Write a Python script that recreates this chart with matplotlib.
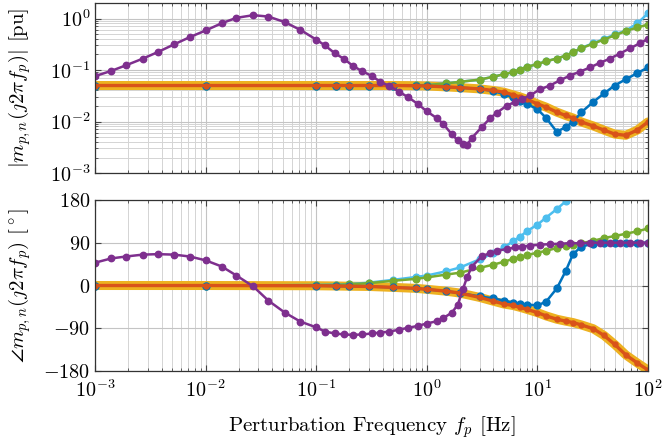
import numpy as np
import matplotlib
matplotlib.use('Agg')
import matplotlib.pyplot as plt
from matplotlib.ticker import LogLocator, NullFormatter, NullLocator

# ---------------- data ----------------
# shared frequency grid [Hz]
freq = [0.001, 0.01, 0.1, 0.15, 0.2, 0.3, 0.5, 0.8, 1, 1.5, 2, 3, 4, 5, 6, 7, 8,
        10, 12, 15, 18, 21, 25, 32, 40, 50, 63, 80, 100]

# reference (yellow) / orange series
orange_mag = [0.05, 0.05, 0.05, 0.05, 0.05, 0.05, 0.05, 0.0495, 0.049, 0.047, 0.0455,
              0.043, 0.040, 0.037, 0.033, 0.030, 0.027, 0.022, 0.019, 0.0152, 0.0131,
              0.0117, 0.0098, 0.0082, 0.0068, 0.0057, 0.0054, 0.0068, 0.0098]
orange_ph = [0, 0, -0.5, -1, -1.5, -2, -4, -6, -8, -12, -16, -25, -33, -39, -42, -46,
             -50, -57, -64, -71, -75, -78, -83, -91, -105, -124, -146, -163, -178]

# blue series
blue_mag = [0.05, 0.05, 0.05, 0.05, 0.05, 0.05, 0.05, 0.0495, 0.049, 0.047, 0.0455,
            0.043, 0.039, 0.034, 0.0295, 0.0245, 0.0219, 0.0174, 0.0117, 0.0063, 0.0078,
            0.0098, 0.0151, 0.024, 0.035, 0.050, 0.066, 0.087, 0.112]
blue_ph = [0, 0, -0.5, -1, -1.5, -2, -4, -6, -8, -12, -16, -23, -27, -32, -36, -38,
           -40, -42, -34, -6, 30, 66, 82, 88, 90, 90, 90, 90, 90]

# green series
green_mag = [0.05, 0.05, 0.05, 0.05, 0.05, 0.05, 0.05, 0.0505, 0.051, 0.055, 0.059,
             0.065, 0.074, 0.083, 0.091, 0.102, 0.115, 0.13, 0.148, 0.167, 0.19,
             0.22, 0.265, 0.325, 0.39, 0.47, 0.57, 0.67, 0.76]
green_ph = [0, 0, 1, 1.5, 2.5, 5, 10, 14, 17, 23, 27, 37, 44, 50, 56, 60, 64, 69, 73,
            79, 83, 86, 89, 94, 100, 104, 109, 114, 120]

# light-blue series
lblue_mag = [0.05, 0.05, 0.05, 0.05, 0.05, 0.05, 0.05, 0.0505, 0.051, 0.055, 0.059,
             0.065, 0.074, 0.083, 0.091, 0.102, 0.115, 0.13, 0.148, 0.167, 0.19,
             0.22, 0.27, 0.33, 0.40, 0.49, 0.58, 0.80, 1.26]
lblue_ph = [0, 0, 1, 2, 3, 6, 12, 18, 21, 30, 38, 55, 68, 80, 93, 103, 114, 128, 143,
            161, 177, 195, 212, 235, 255, 272, 290, 305, 320]

# purple series (own frequency grid)
freq_p = [0.001, 0.0014, 0.0019, 0.0027, 0.0037, 0.0052, 0.0072, 0.01, 0.014, 0.019,
          0.027, 0.037, 0.052, 0.072, 0.1, 0.12, 0.148, 0.178, 0.215, 0.26, 0.32,
          0.38, 0.46, 0.56, 0.68, 0.83, 1.0, 1.24, 1.40, 1.69, 1.91, 2.12, 2.31,
          2.56, 3.16, 3.73, 4.3, 5.3, 6.3, 7.3, 8.6, 10.5, 13, 16, 19.7, 24.3, 29.9,
          36.8, 45.3, 55.8, 68.7, 84.7, 100]
purple_mag = [0.076, 0.096, 0.123, 0.166, 0.223, 0.315, 0.435, 0.585, 0.81, 1.03,
              1.16, 1.09, 0.85, 0.60, 0.39, 0.30, 0.21, 0.165, 0.12, 0.095, 0.076,
              0.059, 0.049, 0.038, 0.0295, 0.0219, 0.0158, 0.0115, 0.0091, 0.0056,
              0.0043, 0.0036, 0.0035, 0.0048, 0.0079, 0.0115, 0.0148, 0.0204, 0.024,
              0.0275, 0.032, 0.042, 0.050, 0.063, 0.078, 0.093, 0.112, 0.138, 0.166,
              0.209, 0.263, 0.331, 0.40]
purple_ph = [48, 57, 61, 65, 66, 65, 61, 53, 40, 21, -2, -32, -57, -76, -88, -97,
             -101, -103, -104, -103, -101, -99, -97, -93, -89, -85, -80, -75, -69,
             -57, -40, -8, 17, 40, 62, 68, 73, 77, 80, 82, 84, 86, 87, 88, 89, 89,
             90, 90, 90, 90, 90, 90, 90]

phase_ticks = [-180, -90, 0, 90, 180]
phase_labels = [r'$-180$', r'$-90$', r'$0$', r'$90$', r'$180$']

# ---------------- style ----------------
plt.rcParams['font.family'] = 'serif'
plt.rcParams['font.serif'] = ['cmr10', 'DejaVu Serif']
plt.rcParams['mathtext.fontset'] = 'cm'
plt.rcParams['axes.formatter.use_mathtext'] = True
plt.rcParams['axes.unicode_minus'] = False

C_BLUE = '#0072BD'
C_ORANGE = '#D95319'
C_YELLOW = '#EDB120'
C_PURPLE = '#7E2F8E'
C_GREEN = '#77AC30'
C_LBLUE = '#4DBEEE'

FS_LABEL = 15
FS_TICK = 14.5

fig = plt.figure(figsize=(6.62, 4.41), dpi=100)
ax1 = fig.add_axes([0.1435, 0.6077, 0.8353, 0.3855])
ax2 = fig.add_axes([0.1435, 0.1587, 0.8353, 0.3878])


def draw(ax, ys):
    (ym_y, ym_lb, ym_g, ym_b, ym_o, ym_p) = ys
    ax.plot(freq, ym_y, color=C_YELLOW, lw=6.5, solid_capstyle='round', zorder=2)
    ax.plot(freq, ym_lb, color=C_LBLUE, lw=1.8, marker='o', ms=4.8, zorder=3)
    ax.plot(freq, ym_g, color=C_GREEN, lw=1.8, marker='o', ms=4.8, zorder=4)
    ax.plot(freq, ym_b, color=C_BLUE, lw=1.8, marker='o', ms=5.0, zorder=5)
    ax.plot(freq, ym_o, color=C_ORANGE, lw=2.4, marker='o', ms=3.6, zorder=6)
    ax.plot(freq_p, ym_p, color=C_PURPLE, lw=1.8, marker='o', ms=4.6, zorder=7)


draw(ax1, (orange_mag, lblue_mag, green_mag, blue_mag, orange_mag, purple_mag))
draw(ax2, (orange_ph, lblue_ph, green_ph, blue_ph, orange_ph, purple_ph))

for ax in (ax1, ax2):
    ax.set_xscale('log')
    ax.set_xlim(1e-3, 1e2)
    ax.xaxis.set_major_locator(LogLocator(base=10, numticks=10))
    ax.xaxis.set_minor_locator(LogLocator(base=10, subs=np.arange(2, 10), numticks=20))
    ax.xaxis.set_minor_formatter(NullFormatter())
    ax.grid(True, which='major', color='#c4c4c4', lw=0.8, zorder=0)
    ax.grid(True, which='minor', color='#d4d4d4', lw=0.7, zorder=0)
    ax.set_axisbelow(True)
    ax.tick_params(which='both', direction='in', top=True, right=True,
                   labelsize=FS_TICK, color='#444444')
    ax.tick_params(which='major', length=4, width=0.8)
    ax.tick_params(which='minor', length=2, width=0.6)
    for s in ax.spines.values():
        s.set_color('#333333')
        s.set_linewidth(0.9)
        s.set_zorder(10)

ax1.set_yscale('log')
ax1.set_ylim(1e-3, 2)
ax1.yaxis.set_major_locator(LogLocator(base=10, numticks=10))
ax1.yaxis.set_minor_locator(LogLocator(base=10, subs=np.arange(2, 10), numticks=20))
ax1.yaxis.set_minor_formatter(NullFormatter())
ax1.tick_params(labelbottom=False)
ax1.set_ylabel(r'$|m_{p,n}(\jmath 2\pi f_p)|$ [pu]', fontsize=FS_LABEL)
ax1.yaxis.set_label_coords(-0.112, 0.5)

ax2.set_ylim(-180, 180)
ax2.set_yticks(phase_ticks)
ax2.set_yticklabels(phase_labels)
ax2.yaxis.set_minor_locator(NullLocator())
ax2.tick_params(axis='x', which='major', pad=6)
ax2.set_ylabel(r'$\angle m_{p,n}(\jmath 2\pi f_p)$ [$^\circ$]', fontsize=FS_LABEL)
ax2.yaxis.set_label_coords(-0.112, 0.5)
ax2.set_xlabel(r'Perturbation Frequency $f_p$ [Hz]', fontsize=FS_LABEL)
ax2.xaxis.set_label_coords(0.5, -0.255)

fig.savefig('out.png', dpi=100)
